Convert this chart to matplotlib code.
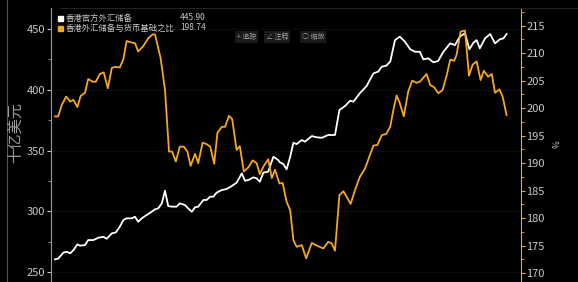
import matplotlib.pyplot as plt
from matplotlib.ticker import MultipleLocator
from matplotlib.patches import Rectangle

plt.rcParams['font.family'] = ['Noto Sans CJK SC', 'DejaVu Sans']

# months since start of chart, official FX reserves (bn USD)
reserve_t = [0.0, 0.8, 2.1, 2.9, 3.8, 4.6, 5.6, 6.2, 7.5, 8.3, 9.6, 10.8, 12.1, 12.9,
             14.2, 15.2, 16.2, 17.1, 17.9, 19.2, 20.0, 20.8, 21.7, 22.9, 23.8, 25.0,
             25.8, 26.7, 27.5, 28.3, 29.2, 30.4, 31.2, 32.5, 33.3, 34.2, 35.0, 35.8,
             37.1, 37.9, 38.8, 39.6, 40.4, 41.7, 42.9, 44.2, 45.4, 46.7, 47.5, 48.3,
             49.6, 50.4, 51.2, 52.1, 53.3, 54.6, 55.8, 56.2, 57.1, 57.9, 58.8, 59.6,
             60.4, 61.7, 62.5, 64.2, 65.4, 66.7, 68.3, 70.0, 71.1, 72.5, 73.8, 74.6,
             76.2, 77.9, 79.6, 80.8, 81.7, 82.8, 83.8, 85.0, 86.2, 87.5, 88.8, 90.0,
             91.2, 92.1, 93.3, 94.6, 95.8, 97.1, 98.8, 100.0, 101.2, 102.5, 103.6,
             104.6, 105.4, 106.2, 107.5, 108.8, 110.0, 111.2, 112.1, 112.9]
reserve_v = [260.5, 261, 266, 266.7, 265.4, 268, 272.8, 271.7, 272.2, 276.3, 276.3, 278.2,
             279, 277.4, 281.8, 282.6, 287.3, 292.8, 294.2, 294.2, 295.5, 291.4, 294.2,
             296.9, 298.8, 301.6, 302.4, 306.5, 316.9, 304.3, 303.8, 303.8, 306.5, 305.1,
             302.4, 299.6, 303.3, 303.8, 309.3, 309.3, 312, 312, 315.3, 317.5, 318.3,
             320.8, 323.5, 331.2, 325.1, 325.7, 327.9, 327.1, 324.3, 331.8, 332.6, 344.9,
             342.2, 340.3, 338.9, 334.5, 344.9, 356.4, 355.3, 358.6, 357.3, 361.9, 360.9,
             360.5, 362.8, 362.8, 383.3, 386.6, 391, 390.2, 397.1, 403.1, 413.5, 414.9,
             419, 419.8, 423.1, 440.9, 443.7, 439.5, 433.3, 431.3, 431.3, 425, 425.9,
             422.6, 423.7, 431.3, 438.2, 436.8, 443.7, 446.5, 433.3, 438.7, 440.9, 434.1,
             442.3, 445.9, 438.2, 441.5, 442.3, 445.9]

# ratio of FX reserves to monetary base (%)
ratio_t = [0.0, 0.8, 1.7, 2.8, 3.8, 4.6, 5.6, 6.4, 7.5, 8.3, 9.4, 10.2, 11.2, 12.2, 13.2,
           14.2, 15.0, 16.2, 17.1, 17.9, 18.8, 20.0, 20.8, 22.1, 23.3, 24.4, 25.0, 26.4,
           27.5, 28.5, 29.3, 30.2, 31.2, 32.2, 33.1, 33.9, 35.0, 35.8, 36.9, 37.8, 38.8,
           39.8, 40.6, 41.7, 42.5, 43.5, 44.3, 45.4, 46.2, 47.2, 48.3, 49.4, 50.4, 51.2,
           52.2, 53.3, 54.2, 55.0, 56.1, 56.9, 57.9, 58.8, 59.6, 60.4, 61.7, 62.8, 64.2,
           65.8, 67.1, 68.3, 69.2, 70.0, 71.1, 72.1, 72.9, 73.9, 75.0, 76.2, 77.5, 78.6,
           79.6, 80.6, 81.7, 82.8, 83.8, 84.6, 85.4, 86.2, 87.2, 88.3, 89.3, 90.4, 91.2,
           92.9, 93.8, 94.8, 95.8, 96.9, 97.9, 98.8, 99.8, 100.4, 101.4, 102.5, 103.5,
           104.4, 105.4, 106.4, 107.2, 108.3, 109.2, 110.0, 111.1, 111.9, 112.9]
ratio_v = [198.5, 198.5, 200.6, 202.1, 201.2, 201.5, 200.2, 202.2, 202.8, 205.3, 204.8,
           204.8, 206.2, 206.5, 203.6, 207.3, 207.5, 207.4, 208.9, 212.2, 212, 211.8,
           210.3, 211.3, 212.7, 213.4, 213.4, 209.1, 203.3, 192.1, 192.1, 190.3, 193,
           193, 192.1, 189.5, 191.7, 190, 193.7, 193.5, 193, 189.9, 195.5, 196.6, 196.6,
           198.6, 198, 192.4, 193.1, 188.5, 189.2, 190.5, 190, 188, 189.5, 190.7, 187.3,
           188.8, 186.3, 186.4, 183, 181.4, 176, 174.8, 175.1, 172.7, 175.5, 174.9, 174.5,
           175.7, 175.4, 174.1, 184.2, 184.9, 183.9, 182.6, 185.1, 187.5, 189, 191.2,
           193.2, 193.3, 195.1, 195.3, 196.6, 199.7, 202.3, 200.9, 198.5, 203, 205,
           204.6, 204.8, 206.2, 204.2, 203.8, 202.7, 203.3, 205.9, 208.8, 208.6, 209.7,
           213.9, 214.1, 205.9, 207.9, 208.5, 205.1, 206.8, 205.7, 206.2, 202.8, 203.4,
           202.1, 198.74]

labels = ['香港官方外汇储备', '香港外汇储备与货币基础之比']
last_values = ['445.90', '198.74']

orange = '#f5a623'
grey = '#c8c8c8'

fig = plt.figure(figsize=(5.78, 2.82), dpi=100, facecolor='black')
ax = fig.add_axes([51 / 578, 0, 470 / 578, 274 / 282], facecolor='black')
ax2 = ax.twinx()

ax.plot(reserve_t, reserve_v, color='white', lw=1.3, zorder=3)
ax2.plot(ratio_t, ratio_v, color=orange, lw=1.3, zorder=2)

ax.set_xlim(-1, 116.5)
ax.set_ylim(241.8, 467.3)
ax2.set_ylim(168.4, 218.2)

ax.yaxis.set_major_locator(MultipleLocator(50))
ax.yaxis.set_minor_locator(MultipleLocator(25))
ax2.yaxis.set_major_locator(MultipleLocator(5))
ax2.yaxis.set_minor_locator(MultipleLocator(2.5))
ax.set_xticks([])

ax.grid(axis='y', color='#0c0c0c', lw=0.8)

for a in (ax, ax2):
    for s in a.spines.values():
        s.set_visible(False)
ax.spines['left'].set_visible(True)
ax.spines['left'].set_color('#9a9a9a')
ax2.spines['right'].set_visible(True)
ax2.spines['right'].set_color(orange)

ax.tick_params(axis='y', which='major', colors=grey, labelsize=8, length=3, pad=1)
ax.tick_params(axis='y', which='minor', color='#9a9a9a', length=2)
ax2.tick_params(axis='y', which='major', color=orange, labelcolor=grey, labelsize=8,
                length=3, pad=1)
ax2.tick_params(axis='y', which='minor', color=orange, length=2)

fig.text(15 / 578, 0.53, '十亿美元', rotation=90, color='#9a9a9a', fontsize=11,
         ha='center', va='center')
fig.text(557 / 578, 0.49, '%', rotation=90, color=grey, fontsize=6,
         ha='center', va='center')

# frame lines
fig.add_artist(plt.Line2D([7 / 578, 7 / 578], [0, 1], color='#555555', lw=0.8))
fig.add_artist(plt.Line2D([60 / 578, 1], [1 - 8 / 282, 1 - 8 / 282], color='#222222',
                          lw=0.8))

# legend
for i, (lab, val, col) in enumerate(zip(labels, last_values, ['white', orange])):
    y = 1 - (18 + 10 * i) / 282
    fig.add_artist(Rectangle((58 / 578, y - 2.5 / 282), 5 / 578, 5 / 282, color=col,
                             transform=fig.transFigure))
    fig.text(66 / 578, y, lab, color=grey, fontsize=6, va='center', ha='left')
    fig.text(180 / 578, y, val, color=grey, fontsize=6, va='center', ha='left')

# toolbar buttons
for x, txt in [(237, '+ 追踪'), (266, '∠ 注释'), (302, '○ 缩放')]:
    fig.text(x / 578, 1 - 37 / 282, txt, color='#9a9a9a', fontsize=5, va='center',
             ha='left', bbox=dict(facecolor='#1a1a1a', edgecolor='none', pad=1.2))

fig.savefig('out.png', dpi=100, facecolor='black')
